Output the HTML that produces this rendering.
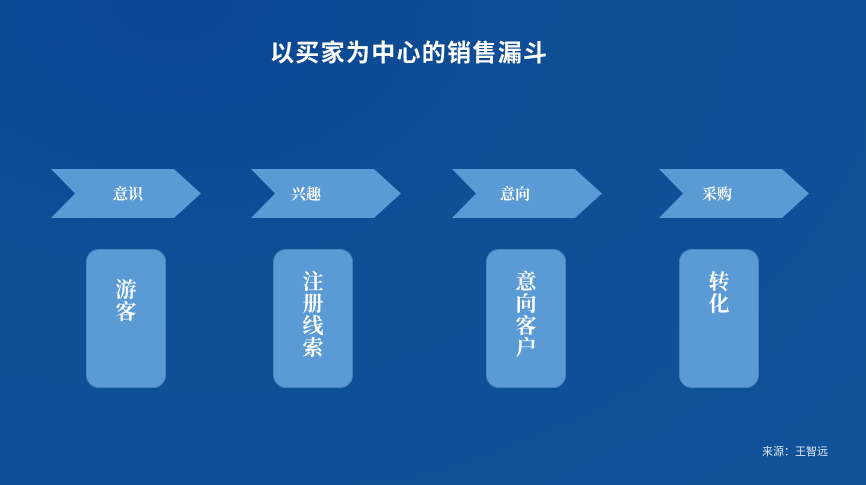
<!DOCTYPE html>
<html><head><meta charset="utf-8"><style>
html,body{margin:0;padding:0}
body{width:866px;height:485px;position:relative;overflow:hidden;
background:radial-gradient(ellipse at 20% 0%,#0a4592 0%,#0e4f96 40%,#0f5298 100%);
font-family:"Liberation Serif","Noto Serif CJK SC",serif;color:#fff}
.t{position:absolute;left:270px;top:33px;font:bold 24px "Liberation Sans","Noto Sans CJK SC",sans-serif;letter-spacing:1.3px}
.ch{position:absolute;top:169px;width:150px;height:49px;background:#5b9bd5;
clip-path:polygon(0 0,82% 0,100% 50%,82% 100%,0 100%,16% 50%)}
.ch span{position:absolute;top:14px;font-weight:bold;font-size:15px}
.bx{position:absolute;top:249px;width:80px;height:139px;background:#5b9bd5;border-radius:13px;border:1px solid #4a84bb;box-sizing:border-box}
.bx span{position:absolute;left:0;width:78px;text-align:center;font-weight:bold;font-size:21px;line-height:22px}
.src{position:absolute;left:762px;top:443px;font:11px "Liberation Sans","Noto Sans CJK SC",sans-serif;color:#dde6f2}
</style></head><body>
<div class="t">以买家为中心的销售漏斗</div>
<div class="ch" style="left:51px"><span style="left:62px">意识</span></div>
<div class="ch" style="left:251px"><span style="left:40px">兴趣</span></div>
<div class="ch" style="left:452px"><span style="left:48px">意向</span></div>
<div class="ch" style="left:659px"><span style="left:43px">采购</span></div>
<div class="bx" style="left:86px"><span style="top:29px">游<br>客</span></div>
<div class="bx" style="left:273px"><span style="top:21px">注<br>册<br>线<br>索</span></div>
<div class="bx" style="left:486px"><span style="top:21px">意<br>向<br>客<br>户</span></div>
<div class="bx" style="left:679px"><span style="top:21px">转<br>化</span></div>
<div class="src">来源：王智远</div>
</body></html>
